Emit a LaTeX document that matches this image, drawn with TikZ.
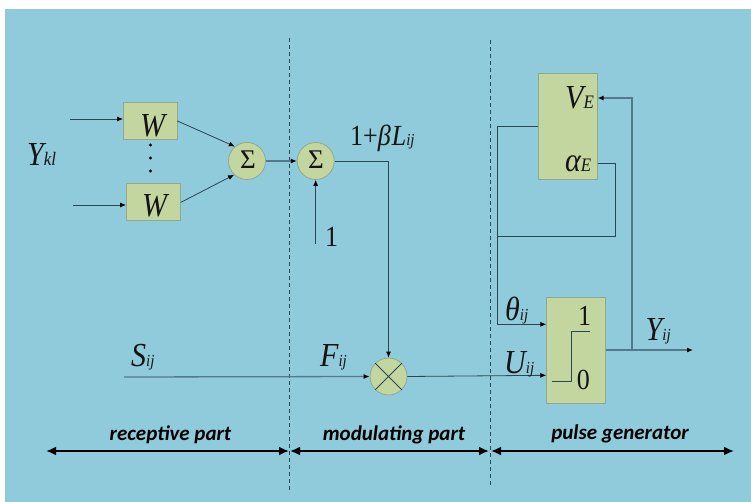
\documentclass[tikz,border=0pt]{standalone}
\usepackage{graphicx}
\usepackage{fontspec}
\setmainfont{Liberation Serif}
\newfontfamily\lblfont{Carlito}
\usetikzlibrary{arrows.meta,calc}
\definecolor{bgteal}{HTML}{90CBDB}
\definecolor{boxgreen}{HTML}{C4D6A0}
\definecolor{boxedge}{HTML}{8FA98F}
\definecolor{wire}{HTML}{2B4753}
\definecolor{wiresoft}{HTML}{55798A}
\tikzset{
  blockbox/.style={draw=boxedge,fill=boxgreen,line width=.8pt,inner sep=0pt,anchor=north west},
  opcircle/.style={circle,draw=boxedge,fill=boxgreen,line width=.8pt,minimum size=37pt,inner sep=0pt},
  wirearrow/.style={draw=wire,line width=.8pt,-{Latex[length=6pt,width=5pt,black]}},
  softarrow/.style={draw=wiresoft,line width=1.3pt,-{Latex[length=6pt,width=5pt,black]}},
  plainwire/.style={draw=wire,line width=.8pt},
  softwire/.style={draw=wiresoft,line width=1.3pt},
  divider/.style={draw=wire,line width=.7pt,dash pattern=on 4pt off 3pt},
  partarrow/.style={draw=black,line width=2pt,{Latex[length=10pt,width=9pt]}-{Latex[length=10pt,width=9pt]}},
  partlabel/.style={font=\lblfont\fontsize{21}{21}\selectfont\bfseries\itshape,inner sep=0pt},
  mathlabel/.style={font=\fontsize{30}{30}\selectfont\itshape,inner sep=0pt,text=black!92},
  numlabel/.style={font=\fontsize{26}{26}\selectfont,inner sep=0pt,text=black!92}
}
\newcommand{\tallbox}[1]{\scalebox{1}[1.12]{#1}}
\newcommand{\sbkl}[1]{{\fontsize{17}{17}\selectfont #1}}
\newcommand{\sbij}[1]{{\fontsize{15}{15}\selectfont\itshape #1}}
\begin{document}
\begin{tikzpicture}[x=1pt,y=-1pt]
\useasboundingbox (0,0) rectangle (751,502);
\fill[bgteal] (5,9) rectangle (751,502);

% dividers
\coordinate (d1t) at (289.5,38); \coordinate (d1b) at (289.5,493);
\coordinate (d2t) at (490.5,40); \coordinate (d2b) at (490.5,487);
\draw[divider] (d1t) -- (d1b);
\draw[divider] (d2t) -- (d2b);

% blocks
\node[blockbox,minimum width=53.5pt,minimum height=37pt] (w1) at (123,102) {};
\node[blockbox,minimum width=54pt,minimum height=37pt] (w2) at (126,183) {};
\node[opcircle] (s1) at (247,161) {};
\node[opcircle] (s2) at (315.7,161) {};
\node[opcircle] (mul) at (388.5,376.5) {};
\node[blockbox,minimum width=58.4pt,minimum height=106.6pt] (ve) at (538.3,72.7) {};
\node[blockbox,minimum width=58.4pt,minimum height=106.6pt] (pg) at (546.3,296.7) {};

\draw[wire,line width=.8pt] (mul.45) -- (mul.225) (mul.135) -- (mul.315);

% block texts
\node[mathlabel,anchor=base] (tw1) at (152.5,136.5) {\tallbox{W}};
\node[mathlabel,anchor=base] (tw2) at (154.5,216.5) {\tallbox{W}};
\node[numlabel,anchor=base,font=\fontsize{27}{27}\selectfont] (ts1) at (248,168.5) {Σ};
\node[numlabel,anchor=base,font=\fontsize{27}{27}\selectfont] (ts2) at (316,168.5) {Σ};

% dots
\fill (150.5,145) circle (1.6pt) (150.5,158) circle (1.6pt) (150.5,171) circle (1.6pt);

% free ends
\coordinate (in1) at (70,119);
\coordinate (in2) at (73,205);
\coordinate (one) at (315.7,244);
\coordinate (sin) at (124,377);
\coordinate (yout) at (693,350);
\coordinate (ctap) at (632,350);
\coordinate (vbus) at (497.3,126.3);
\coordinate (aright) at (615.3,163.3);
\coordinate (alow) at (615.3,236.5);
\coordinate (ajoin) at (497.3,236.5);
\coordinate (thb) at (497.3,324.3);

% receptive part
\draw[wirearrow] (in1) -- (in1 -| w1.west);
\draw[wirearrow] (in2) -- (in2 -| w2.west);
\draw[wirearrow] (w1.east) -- (s1.130);
\draw[wirearrow] (w2.east) ++(0,.5) -- (s1.227);
\draw[softarrow] (s1) ++(18.5,0) -- (s2.west);
\draw[wirearrow] (one) -- (s2.south);
\draw[plainwire,-{Latex[length=6pt,width=5pt,black]}] (s2.east) -| (mul.north);
\draw[softarrow] (sin) -- (mul.west);
\draw[wirearrow] (mul.east) -- (pg.west |- 0,375.3);

% pulse generator
\draw[plainwire] (ve.west |- vbus) -- (vbus) -- (thb);
\draw[wirearrow] (thb) -- (pg.west |- thb);
\draw[plainwire] (ve.east |- aright) -- (aright) -- (alow) -- (ajoin);
\draw[softwire] (pg.east |- ctap) -- (ctap);
\draw[softarrow] (ctap) -- (yout);
\draw[softwire,-{Latex[length=6pt,width=5pt,black]}] (ctap) |- (ve.east |- 0,98);

% step symbol
\draw[wire,line width=.9pt] (552,381) -- (571,381) -- (571,331) -- (590,331);

% labels
\node[mathlabel,anchor=base west] (ykl) at (27,165.5) {\tallbox{Y\sbkl{kl}}};
\node[numlabel,anchor=base west] (lone) at (325,246.7) {\tallbox{1}};
\node[numlabel,anchor=base west] (lbeta) at (350,146) {\tallbox{1+{\itshape β\kern1pt L}\sbij{ij}}};
\node[mathlabel,anchor=base west] (ve1) at (565,109) {\tallbox{V\sbkl{E}}};
\node[mathlabel,anchor=base west] (ve2) at (565,171.5) {\tallbox{α\sbkl{E}}};
\node[mathlabel,anchor=base west] (sij) at (131,366) {\tallbox{S\sbij{ij}}};
\node[mathlabel,anchor=base west] (fij) at (320,366) {\tallbox{F\sbij{ij}}};
\node[mathlabel,anchor=base west] (uij) at (504,373) {\tallbox{U\sbij{ij}}};
\node[mathlabel,anchor=base west] (tij) at (505,320) {\tallbox{θ\sbij{ij}}};
\node[mathlabel,anchor=base west] (yij) at (645.5,340) {\tallbox{Y\sbij{ij}}};
\node[numlabel,anchor=base west] (pg1) at (578,325.7) {\tallbox{1}};
\node[numlabel,anchor=base west] (pg0) at (576.7,389) {\tallbox{0}};

% part arrows
\coordinate (a0) at (46,451); \coordinate (a1) at (289,451);
\coordinate (a2) at (290,451); \coordinate (a3) at (489,451);
\coordinate (a4) at (491,451); \coordinate (a5) at (734,451);
\draw[partarrow] (a0) -- (a1);
\draw[partarrow] (a2) -- (a3);
\draw[partarrow] (a4) -- (a5);
\node[partlabel] (p1) at (170.5,435) {receptive part};
\node[partlabel] (p2) at (394,435) {modulating part};
\node[partlabel] (p3) at (620,434) {pulse generator};
\end{tikzpicture}
\end{document}
